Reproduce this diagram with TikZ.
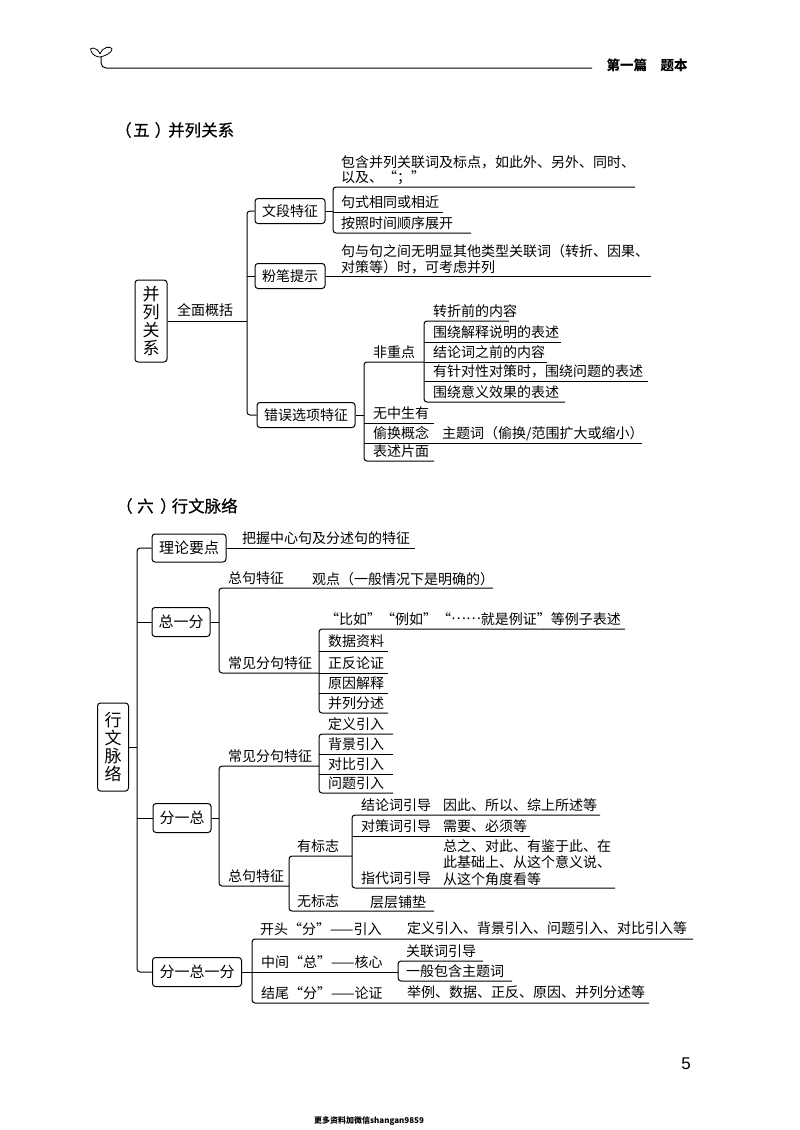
\documentclass[tikz,border=0pt]{standalone}
\usepackage{fontspec}
\setmainfont{Noto Sans CJK SC}
\newfontfamily\numfont{Liberation Sans}
\newfontfamily\headfont[FakeBold=0.5]{Noto Sans CJK SC}
\tikzset{
	wire/.style={line width=1pt,rounded corners=3pt},
	lbl/.style={inner sep=0pt,anchor=base west,font=\fontsize{14}{14}\selectfont},
	tagbox/.style={draw,line width=1pt,rounded corners=3pt,inner sep=0pt,font=\fontsize{14}{14}\selectfont},
	rootbox/.style={tagbox,align=center,font=\fontsize{17}{18}\selectfont},
	headline/.style={inner sep=0pt,anchor=west,font=\fontsize{16.5}{17}\selectfont\headfont},
}
\begin{document}
\begin{tikzpicture}[x=1pt,y=-1pt]
	\useasboundingbox (0,0) rectangle (800,1130);
	% page head
	\draw[line width=0.8pt] (100,54) .. controls (97,46) and (88,47) .. (91,51) .. controls (92,55) and (97,57) .. (100,57)
		.. controls (105,56) and (112,53) .. (112,49) .. controls (111,46) and (103,46) .. (100,54);
	\coordinate (rulea) at (101,57);
	\coordinate (ruleb) at (592,68);
	\draw[wire,rounded corners=5pt] (rulea) -- (rulea |- ruleb) -- (ruleb);
	\node[inner sep=0pt,font=\fontsize{13.5}{14}\selectfont\bfseries] (pagehead) at (647,65) {第一篇\hspace{1em}题本};
	\node[headline] (head5) at (115,130) {（\kern1.5pt五\kern5pt）\kern-3pt并列关系};
	\node[headline] (head6) at (116,506) {（\kern4.5pt六\kern6.5pt）\kern-5pt行文脉络};
	\node[inner sep=0pt,font=\fontsize{17}{18}\selectfont\numfont] (pagenum) at (686,1064) {5};
	\node[inner sep=0pt,font=\fontsize{8}{9}\selectfont\bfseries] (foot) at (369,1121) {更多资料加微信shangan9859};
	% boxes
	\node[rootbox,minimum width=32pt,minimum height=82pt] (bl) at (151,321) {并\\列\\关\\系};
	\node[tagbox,minimum width=70pt,minimum height=25pt] (wd) at (290,211) {文段特征};
	\node[tagbox,minimum width=70pt,minimum height=25pt] (fb) at (290,276) {粉笔提示};
	\node[tagbox,minimum width=98pt,minimum height=25pt] (cw) at (306,415) {错误选项特征};
	\node[rootbox,minimum width=31pt,minimum height=88pt] (xw) at (113,747) {行\\文\\脉\\络};
	\node[tagbox,minimum width=74pt,minimum height=28pt,font=\fontsize{15}{15}\selectfont] (ll) at (189,548) {理论要点};
	\node[tagbox,minimum width=58pt,minimum height=29pt,font=\fontsize{15}{15}\selectfont] (zf) at (181,622) {总一分};
	\node[tagbox,minimum width=58pt,minimum height=29pt,font=\fontsize{15}{15}\selectfont] (fz) at (182,818) {分一总};
	\node[tagbox,minimum width=89pt,minimum height=29pt,font=\fontsize{15}{15}\selectfont] (fzf) at (197,972) {分一总一分};
	% leaves: name/line start/line end/line y/text x/text
	\foreach \nm/\xa/\xb/\yl/\xt/\tx in {
		a1/333/635/187/341/{以及、“；”},
		a2/333/443/212/341/{句式相同或相近},
		a3/333/471/233/341/{按照时间顺序展开},
		b0/364/424/362/373/{非重点},
		b1/424/509/321/433/{转折前的内容},
		b2/424/561/342/433/{围绕解释说明的表述},
		b3/424/547/362/433/{结论词之前的内容},
		b4/424/648/381/433/{有针对性对策时，围绕问题的表述},
		b5/424/565/402/433/{围绕意义效果的表述},
		c1/364/434/423/373/{无中生有},
		c2/364/642/443/373/{偷换概念},
		c3/364/434/461/373/{表述片面},
		g1/219/493/588/228/{总句特征},
		g2/219/319/673/228/{常见分句特征},
		g3/219/319/766/228/{常见分句特征},
		g4/219/289/886/228/{总句特征},
		h1/319/625/629/325/{“比如”“例如”“\raisebox{.3em}{……}就是例证”等例子表述},
		h2/319/388/651/328/{数据资料},
		h3/319/388/673/328/{正反论证},
		h4/319/388/693/328/{原因解释},
		h5/319/388/713/328/{并列分述},
		i1/319/393/734/328/{定义引入},
		i2/319/393/754/328/{背景引入},
		i3/319/393/774/328/{对比引入},
		i4/319/393/793/328/{问题引入},
		j1/289/352/856/297/{有标志},
		j2/289/434/911/297/{无标志},
		k1/352/600/815/361/{结论词引导},
		k2/352/530/836/361/{对策词引导},
		k3/352/615/888/361/{指代词引导},
		l1/252/693/939/260/{开头“分”——引入},
		l3/252/649/1003/261/{结尾“分”——论证},
		n1/398/483/961/406/{关联词引导},
		n2/398/512/981/406/{一般包含主题词}}{
		\coordinate (\nm-a) at (\xa,\yl);
		\coordinate (\nm-b) at (\xb,\yl);
		\node[lbl] (\nm) at (\xt,\yl-5) {\tx};
	}
	% texts beside the leaves: name/x/baseline/text
	\foreach \nm/\xt/\yb/\tx in {
		t1/341/167/{包含并列关联词及标点，如此外、另外、同时、},
		t2/341/256/{句与句之间无明显其他类型关联词（转折、因果、},
		t3/341/272/{对策等）时，可考虑并列},
		t4/177/315/{全面概括},
		t5/442/438/{主题词（偷换/范围扩大或缩小）},
		t6/242/543/{把握中心句及分述句的特征},
		t7/312/584/{观点（一般情况下是明确的）},
		t8/370/907/{层层铺垫},
		t9/443/810/{因此、所以、综上所述等},
		t10/443/831/{需要、必须等},
		t11/443/851/{总之、对此、有鉴于此、在},
		t12/443/867/{此基础上、从这个意义说、},
		t13/443/884/{从这个角度看等},
		t14/407/933/{定义引入、背景引入、问题引入、对比引入等},
		t15/261/967/{中间“总”——核心},
		t16/407/997/{举例、数据、正反、原因、并列分述等}}{
		\node[lbl] (\nm) at (\xt,\yb) {\tx};
	}
	% first tree
	\coordinate (m1) at (247,321);
	\coordinate (fbb) at (651,276);
	\draw[wire] (bl.east) -- (m1);
	\draw[wire] (wd.west) -- (wd.west -| m1) -- (cw.west -| m1) -- (cw.west);
	\draw[wire] (fb.west) -- (fb.west -| m1);
	\draw[wire] (fb.east) -- (fbb);
	\draw[wire] (wd.east) -- (wd.east -| a1-a);
	\draw[wire] (a1-b) -- (a1-a) -- (a3-a) -- (a3-b);
	\draw[wire] (a2-a) -- (a2-b);
	\draw[wire] (cw.east) -- (cw.east -| b0-a);
	\draw[wire] (b0-b) -- (b0-a) -- (c3-a) -- (c3-b);
	\draw[wire] (c1-a) -- (c1-b);
	\draw[wire] (c2-a) -- (c2-b);
	\draw[wire] (b1-b) -- (b1-a) -- (b5-a) -- (b5-b);
	\draw[wire] (b2-a) -- (b2-b);
	\draw[wire] (b3-a) -- (b3-b);
	\draw[wire] (b4-a) -- (b4-b);
	% second tree
	\coordinate (m2) at (137,747);
	\coordinate (llb) at (415,548);
	\draw[wire] (xw.east) -- (m2);
	\draw[wire] (ll.west) -- (ll.west -| m2) -- (fzf.west -| m2) -- (fzf.west);
	\draw[wire] (zf.west) -- (zf.west -| m2);
	\draw[wire] (fz.west) -- (fz.west -| m2);
	\draw[wire] (ll.east) -- (llb);
	\draw[wire] (zf.east) -- (zf.east -| g1-a);
	\draw[wire] (fz.east) -- (fz.east -| g3-a);
	\draw[wire] (g1-b) -- (g1-a) -- (g2-a) -- (g2-b);
	\draw[wire] (g3-b) -- (g3-a) -- (g4-a) -- (g4-b);
	\draw[wire] (h1-b) -- (h1-a) -- (h5-a) -- (h5-b);
	\draw[wire] (h2-a) -- (h2-b);
	\draw[wire] (h3-a) -- (h3-b);
	\draw[wire] (h4-a) -- (h4-b);
	\draw[wire] (i1-b) -- (i1-a) -- (i4-a) -- (i4-b);
	\draw[wire] (i2-a) -- (i2-b);
	\draw[wire] (i3-a) -- (i3-b);
	\draw[wire] (j1-b) -- (j1-a) -- (j2-a) -- (j2-b);
	\draw[wire] (k1-b) -- (k1-a) -- (k3-a) -- (k3-b);
	\draw[wire] (k2-a) -- (k2-b);
	\draw[wire] (l1-b) -- (l1-a) -- (l3-a) -- (l3-b);
	\draw[wire] (fzf.east) -- (fzf.east -| n1-a);
	\draw[wire] (n1-b) -- (n1-a) -- (n2-a) -- (n2-b);
\end{tikzpicture}
\end{document}
